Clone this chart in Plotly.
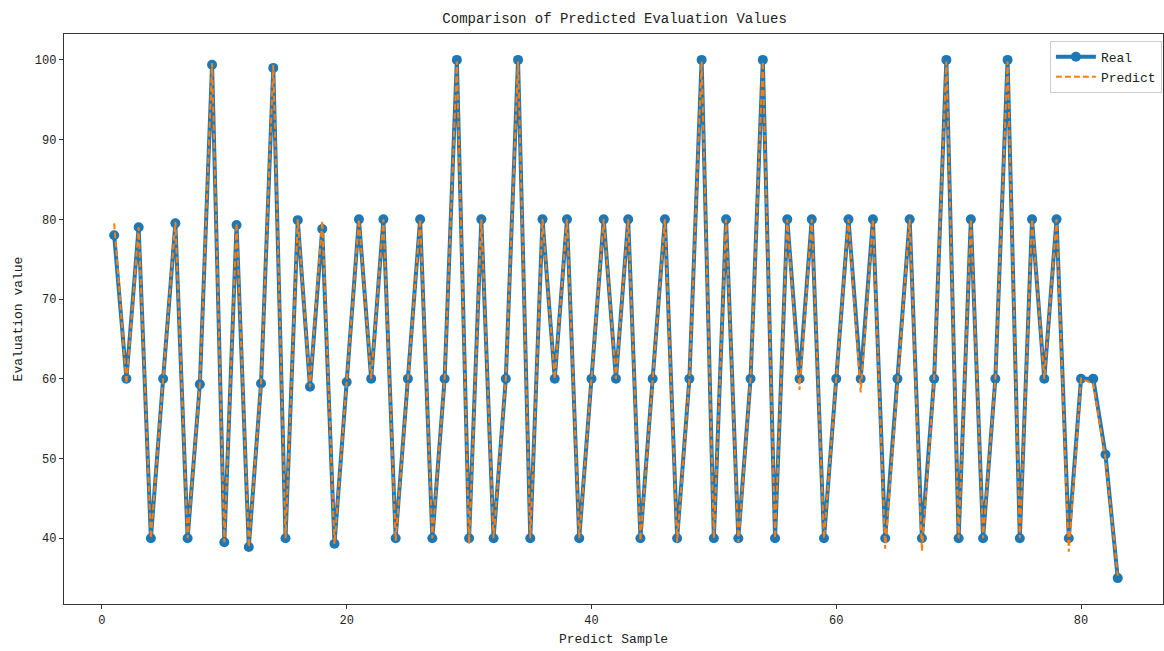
import plotly.graph_objects as go

# sample index 1..83
samples = list(range(1, 84))

real = [78, 60, 79, 40, 60, 79.5, 40, 59.3, 99.4, 39.5,
        79.3, 38.9, 59.4, 99, 40, 79.9, 59, 78.8, 39.3, 59.6,
        80, 60, 80, 40, 60, 80, 40, 60, 100, 40,
        80, 40, 60, 100, 40, 80, 60, 80, 40, 60,
        80, 60, 80, 40, 60, 80, 40, 60, 100, 40,
        80, 40, 60, 100, 40, 80, 60, 80, 40, 60,
        80, 60, 80, 40, 60, 80, 40, 60, 100, 40,
        80, 40, 60, 100, 40, 80, 60, 80, 40, 60,
        60, 50.5, 35]

predict = [79.5, 59.4, 79, 40, 60, 79.7, 40, 59.3, 99.6, 39.5,
           79.5, 38.9, 59.4, 99.4, 40, 80, 59, 79.8, 39.3, 59.6,
           80, 60, 80, 39.7, 60, 80, 40, 60, 99.8, 39.3,
           80, 40, 60, 99.8, 40, 80, 60, 80, 40, 60,
           80, 60, 80, 39.7, 60, 80, 39.5, 60, 99.8, 40,
           80, 39.5, 60, 99.8, 40, 80, 58.6, 80, 40, 60,
           80, 58.3, 80, 38.7, 60, 80, 38.4, 60, 99.8, 40,
           80, 40, 60, 99.8, 40, 80, 60, 80, 38.3, 60,
           59.4, 50, 35.3]

FONT = "Liberation Mono"

fig = go.Figure()
fig.add_trace(go.Scatter(
    x=samples, y=real, name="Real", mode="lines+markers",
    line=dict(color="#1f77b4", width=4),
    marker=dict(color="#1f77b4", size=10),
))
fig.add_trace(go.Scatter(
    x=samples, y=predict, name="Predict", mode="lines",
    line=dict(color="#ff7f0e", width=2, dash="6px,3px"),
))

axis_style = dict(
    showline=True, linecolor="#333", linewidth=1.3, mirror=True,
    ticks="outside", ticklen=4, tickcolor="#333", showgrid=False, zeroline=False,
    tickfont=dict(family=FONT, size=12, color="#222"), automargin=False,
)

fig.update_layout(
    width=1164, height=651,
    margin=dict(l=64, r=1, t=34, b=47),
    plot_bgcolor="white", paper_bgcolor="white",
    title=dict(text="Comparison of Predicted Evaluation Values", x=0.528, xanchor="center",
               y=0.972, yanchor="middle", yref="container",
               font=dict(family=FONT, size=14, color="#222")),
    xaxis=dict(range=[-3.1, 86.7], tickvals=[0, 20, 40, 60, 80],
               title=dict(text="Predict Sample", standoff=7,
                          font=dict(family=FONT, size=13, color="#222")),
               **axis_style),
    yaxis=dict(range=[31.75, 103.25], tickvals=[40, 50, 60, 70, 80, 90, 100],
               title=dict(text="Evaluation value", standoff=9,
                          font=dict(family=FONT, size=13, color="#222")),
               **axis_style),
    legend=dict(x=0.999, y=0.988, xanchor="right", yanchor="top",
                bordercolor="#ccc", borderwidth=1, bgcolor="rgba(255,255,255,0.8)",
                font=dict(family=FONT, size=13, color="#222"),
                itemwidth=40, tracegroupgap=0),
    showlegend=True,
)

# drop the browser's default 8px body margin so the figure sits at (0, 0)
fig.write_html("out.html", config={"displayModeBar": False},
               post_script="document.body.style.margin='0px';")
